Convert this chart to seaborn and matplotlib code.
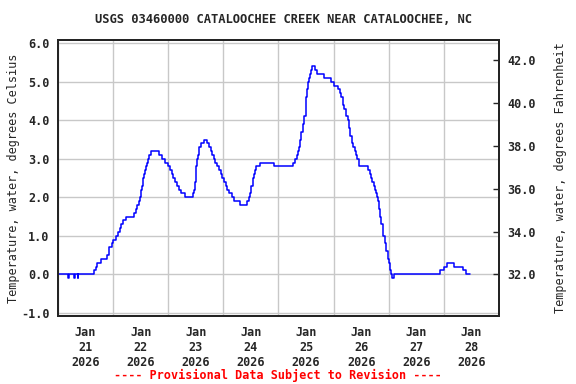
import numpy as np
import pandas as pd
import matplotlib
matplotlib.use('Agg')
import matplotlib.pyplot as plt
import matplotlib.dates as mdates
import seaborn as sns

sns.set_style('white')
plt.rcParams['font.family'] = ['DejaVu Sans Mono']
plt.rcParams['font.weight'] = 'bold'

# ====
# DATA
# ====
title = 'USGS 03460000 CATALOOCHEE CREEK NEAR CATALOOCHEE, NC'
left_label = 'Temperature, water, degrees Celsius'
right_label = 'Temperature, water, degrees Fahrenheit'
footer = '---- Provisional Data Subject to Revision ----'

start = pd.Timestamp('2026-01-21 00:00')

# hours after start where the reading changes, and the reading (deg C)
hours = [0.0, 4.5, 4.75, 7.1, 7.35, 8.6, 8.85, 15.8, 16.4, 17.0,
         18.6, 21.3, 22.0, 22.4, 23.4, 24.0, 25.3, 26.2, 26.8, 27.5,
         28.1, 29.7, 33.0, 34.0, 34.6, 35.2, 35.5, 36.0, 36.4, 37.1,
         37.5, 38.0, 38.4, 38.7, 39.3, 39.7, 40.4, 43.8, 45.4, 46.7,
         48.1, 48.9, 49.6, 50.2, 50.9, 51.6, 52.8, 53.7, 55.4, 58.7,
         59.2, 59.7, 59.9, 60.2, 60.5, 61.0, 61.5, 62.1, 63.4, 65.0,
         65.7, 66.5, 67.2, 67.8, 68.5, 69.4, 70.2, 71.0, 71.6, 72.3,
         73.0, 73.7, 74.6, 75.8, 76.7, 79.1, 82.3, 83.2, 83.8, 84.2,
         84.8, 85.2, 85.7, 86.4, 87.8, 94.0, 102.2, 103.4, 104.1, 104.5,
         104.9, 105.5, 106.0, 106.6, 107.3, 107.8, 108.1, 108.5, 109.0, 109.3,
         109.7, 110.2, 110.7, 111.8, 112.9, 115.8, 119.0, 120.0, 121.7, 122.7,
         123.3, 123.9, 124.4, 125.2, 126.1, 126.7, 127.3, 127.9, 128.4, 129.2,
         129.9, 130.3, 131.0, 135.0, 135.7, 136.1, 136.7, 137.5, 137.9, 138.5,
         139.1, 139.3, 139.8, 140.2, 140.8, 141.4, 141.7, 142.3, 143.0, 143.6,
         144.0, 144.4, 144.9, 145.6, 146.1, 166.4, 167.9, 169.2, 172.2, 176.2,
         177.6, 179.3]
temp_c = [0.0, -0.1, 0.0, -0.1, 0.0, -0.1, 0.0, 0.1, 0.2, 0.3,
          0.4, 0.5, 0.6, 0.7, 0.8, 0.9, 1.0, 1.1, 1.2, 1.3,
          1.4, 1.5, 1.6, 1.7, 1.8, 1.9, 2.0, 2.2, 2.3, 2.5,
          2.6, 2.7, 2.8, 2.9, 3.0, 3.1, 3.2, 3.1, 3.0, 2.9,
          2.8, 2.7, 2.6, 2.5, 2.4, 2.3, 2.2, 2.1, 2.0, 2.1,
          2.2, 2.4, 2.6, 2.8, 3.0, 3.1, 3.3, 3.4, 3.5, 3.4,
          3.3, 3.2, 3.1, 3.0, 2.9, 2.8, 2.7, 2.6, 2.5, 2.4,
          2.3, 2.2, 2.1, 2.0, 1.9, 1.8, 1.9, 2.0, 2.1, 2.3,
          2.5, 2.6, 2.7, 2.8, 2.9, 2.8, 2.9, 3.0, 3.1, 3.2,
          3.3, 3.5, 3.7, 3.9, 4.1, 4.4, 4.6, 4.8, 5.0, 5.1,
          5.2, 5.3, 5.4, 5.3, 5.2, 5.1, 5.0, 4.9, 4.8, 4.7,
          4.6, 4.4, 4.3, 4.1, 4.0, 3.8, 3.6, 3.4, 3.3, 3.2,
          3.1, 3.0, 2.8, 2.7, 2.6, 2.5, 2.4, 2.3, 2.2, 2.1,
          2.0, 1.9, 1.7, 1.5, 1.3, 1.1, 1.0, 0.8, 0.6, 0.4,
          0.3, 0.1, 0.0, -0.1, 0.0, 0.1, 0.2, 0.3, 0.2, 0.1,
          0.0, 0.0]

c_ticks = [-1.0, 0.0, 1.0, 2.0, 3.0, 4.0, 5.0, 6.0]
f_ticks = [32.0, 34.0, 36.0, 38.0, 40.0, 42.0]
day_labels = ['21', '22', '23', '24', '25', '26', '27', '28']

df = pd.DataFrame({'time': start + pd.to_timedelta(hours, unit='h'),
                   'temp': temp_c})

# ====
# PLOT
# ====
fig = plt.figure(figsize=(5.76, 3.84), dpi=100)
ax = fig.add_axes([0.1007, 0.1771, 0.7656, 0.7187])

sns.lineplot(data=df, x='time', y='temp', ax=ax, estimator=None,
             drawstyle='steps-post', color='#0000ff', linewidth=1.1)

ylo, yhi = -1.083, 6.085
ax.set_ylim(ylo, yhi)
ax.set_xlim(start, start + pd.Timedelta(days=8))

ax.set_yticks(c_ticks)
ax.set_yticklabels(['%.1f' % v for v in c_ticks])
ax.tick_params(axis='y', length=0, pad=6, labelsize=8.5)

# gridlines at midnight, labels at noon
ax.xaxis.set_major_locator(mdates.DayLocator())
ax.xaxis.set_major_formatter(plt.NullFormatter())
ax.set_xticks([start + pd.Timedelta(hours=12 + 24 * i) for i in range(8)],
              minor=True)
ax.set_xticklabels(['Jan\n%s\n2026' % d for d in day_labels], minor=True)
ax.tick_params(axis='x', which='both', length=0, pad=7, labelsize=8.5)

ax.grid(True, which='major', color='#c8c8c8', linewidth=1.0)
for s in ax.spines.values():
    s.set_color('black')
    s.set_linewidth(1.3)

ax.set_xlabel('')
ax.set_ylabel(left_label, fontsize=8.5, labelpad=1)

# Fahrenheit axis
ax2 = ax.twinx()
ax2.set_ylim(ylo * 1.8 + 32, yhi * 1.8 + 32)
ax2.set_yticks(f_ticks)
ax2.set_yticklabels(['%.1f' % v for v in f_ticks])
ax2.tick_params(axis='y', direction='in', length=4, width=1, pad=6,
                labelsize=8.5)
ax2.set_ylabel(right_label, fontsize=8.5, labelpad=13)
for s in ax2.spines.values():
    s.set_linewidth(1.3)

fig.text(0.493, 0.948, title, ha='center', va='center', fontsize=8.7)
fig.text(0.482, 0.023, footer, ha='center', va='center', fontsize=8.5,
         color='red')

plt.savefig('out.png', dpi=100)
plt.close()
